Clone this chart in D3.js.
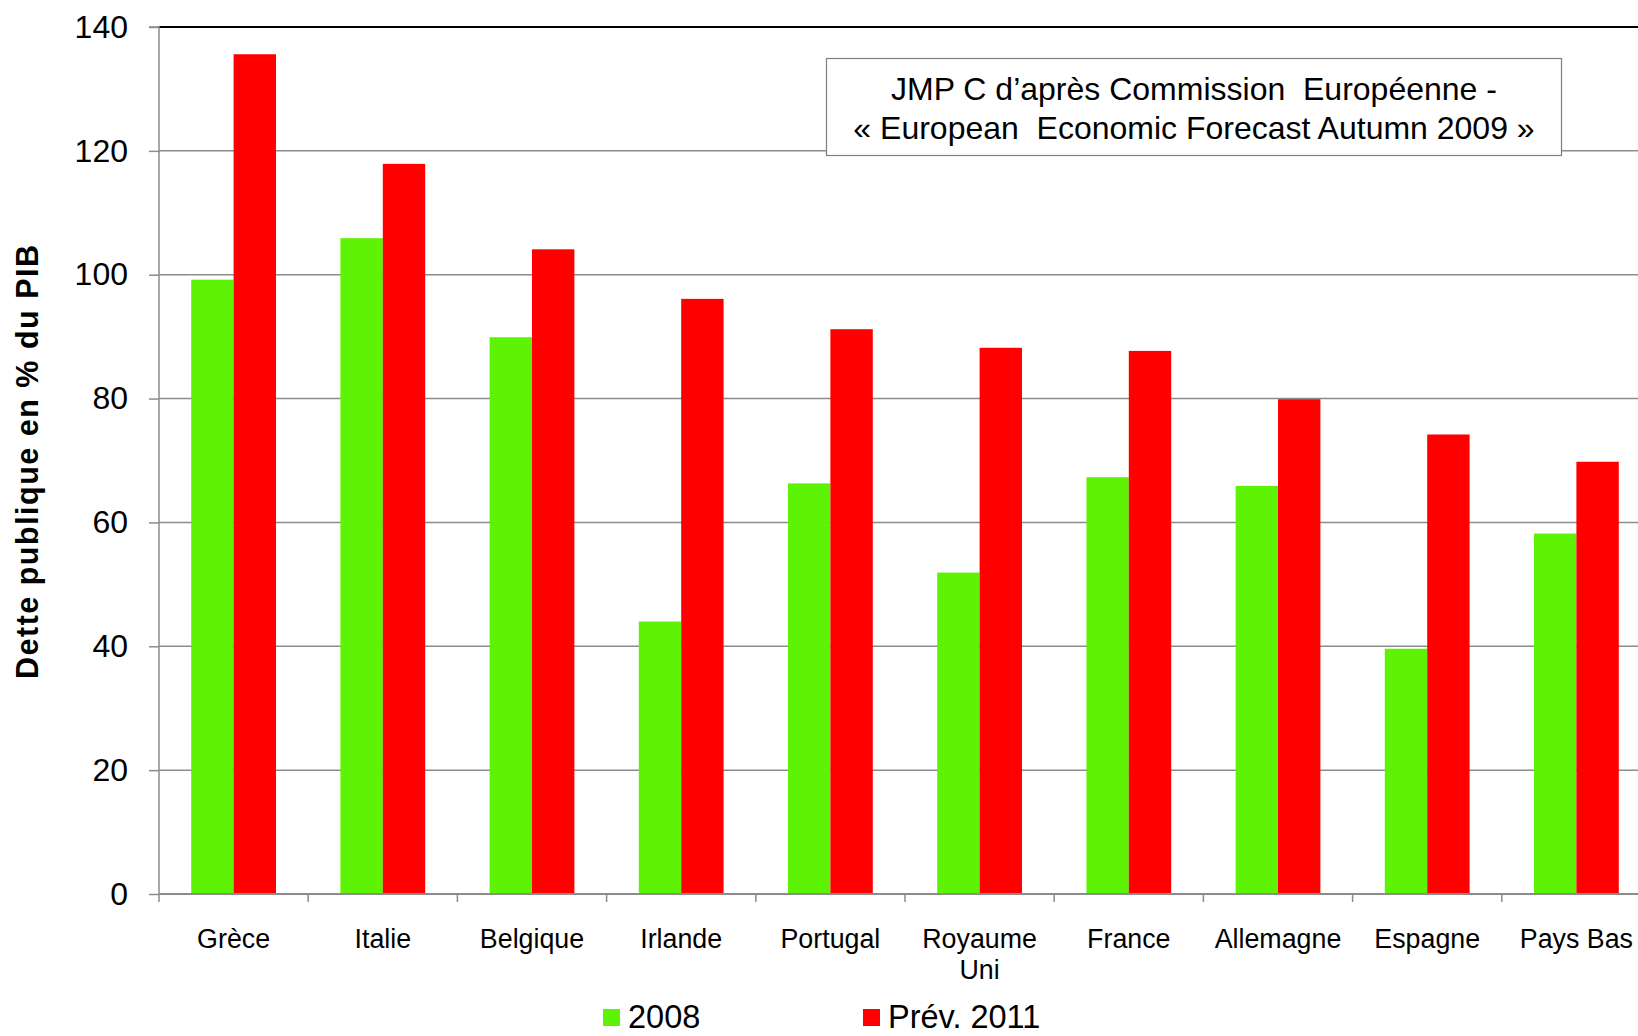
<!DOCTYPE html>
<html>
<head>
<meta charset="utf-8">
<script src="https://cdn.jsdelivr.net/npm/d3@7"></script>
<style>
  body { margin: 0; background: #fff; }
  svg { display: block; font-family: "Liberation Sans", Arial, sans-serif; }
</style>
</head>
<body>
<script>
// data (% du PIB)
const categories = ["Grèce", "Italie", "Belgique", "Irlande", "Portugal", "Royaume\nUni", "France", "Allemagne", "Espagne", "Pays Bas"];
const series = ["2008", "Prév. 2011"];
const v2008 = [99.2, 105.9, 89.9, 44.0, 66.3, 51.9, 67.3, 65.9, 39.6, 58.2];
const v2011 = [135.6, 117.9, 104.1, 96.1, 91.2, 88.2, 87.7, 79.9, 74.2, 69.8];
const yTicks = [0, 20, 40, 60, 80, 100, 120, 140];
const colors = ["#5ef204", "#ff0000"];

const width = 1638, height = 1036;
const margin = {top: 27, right: -13, bottom: 142, left: 159};

const data = categories.map((c, i) => ({cat: c, values: [v2008[i], v2011[i]]}));

const svg = d3.select("body").append("svg")
    .attr("width", width)
    .attr("height", height);

const x0 = d3.scaleBand()
    .domain(categories)
    .range([margin.left, width - margin.right])
    .paddingInner(0)
    .paddingOuter(0);

const x1 = d3.scaleBand()
    .domain(series)
    .range([0, x0.bandwidth()])
    .paddingInner(0)
    .paddingOuter(0.76);

const y = d3.scaleLinear()
    .domain([0, 140])
    .range([height - margin.bottom, margin.top]);

// grid
svg.append("g")
  .selectAll("line")
  .data(yTicks.filter(d => d > 0 && d < 140))
  .join("line")
    .attr("x1", margin.left)
    .attr("x2", width)
    .attr("y1", d => y(d))
    .attr("y2", d => y(d))
    .attr("stroke", "#8c8c8c")
    .attr("stroke-width", 1.5);

// top border
svg.append("line")
    .attr("x1", margin.left)
    .attr("x2", width)
    .attr("y1", y(140))
    .attr("y2", y(140))
    .attr("stroke", "#000")
    .attr("stroke-width", 2);

// bars
svg.append("g")
  .selectAll("g")
  .data(data)
  .join("g")
    .attr("transform", d => `translate(${x0(d.cat)},0)`)
  .selectAll("rect")
  .data(d => d.values.map((v, i) => ({key: series[i], value: v, i})))
  .join("rect")
    .attr("x", d => x1(d.key))
    .attr("width", x1.bandwidth())
    .attr("y", d => y(d.value))
    .attr("height", d => y(0) - y(d.value))
    .attr("fill", d => colors[d.i]);

// y axis
const yAxis = svg.append("g")
    .attr("transform", `translate(${margin.left},0)`)
    .call(d3.axisLeft(y).tickValues(yTicks).tickSize(10).tickPadding(21));
yAxis.selectAll("line, path").attr("stroke", "#8c8c8c").attr("stroke-width", 1.5);
yAxis.select(".domain").attr("d", `M-10,${y(140)}H0V${y(0)}`);
yAxis.selectAll("text")
    .attr("font-size", 32)
    .attr("fill", "#000")
    .attr("font-family", "Liberation Sans, Arial, sans-serif");

// x axis line and ticks at category boundaries
svg.append("line")
    .attr("x1", margin.left)
    .attr("x2", width)
    .attr("y1", y(0))
    .attr("y2", y(0))
    .attr("stroke", "#8c8c8c")
    .attr("stroke-width", 2);

svg.append("g")
  .selectAll("line")
  .data(categories)
  .join("line")
    .attr("x1", d => x0(d))
    .attr("x2", d => x0(d))
    .attr("y1", y(0))
    .attr("y2", y(0) + 8)
    .attr("stroke", "#8c8c8c")
    .attr("stroke-width", 1.5);

// category labels
svg.append("g")
  .selectAll("text")
  .data(categories)
  .join("text")
    .attr("text-anchor", "middle")
    .attr("font-size", 26.8)
    .attr("fill", "#000")
    .attr("transform", d => `translate(${x0(d) + x0.bandwidth() / 2},${y(0) + 54})`)
    .each(function(d) {
      d.split("\n").forEach((line, i) => {
        d3.select(this).append("tspan")
            .attr("x", 0)
            .attr("y", i * 31)
            .text(line);
      });
    });

// y title
svg.append("text")
    .attr("transform", "translate(38,462) rotate(-90)")
    .attr("text-anchor", "middle")
    .attr("font-size", 30.5)
    .attr("font-weight", "bold")
    .attr("textLength", 434)
    .attr("lengthAdjust", "spacing")
    .text("Dette publique en % du PIB");

// source box
const box = svg.append("g");
box.append("rect")
    .attr("x", 826.5)
    .attr("y", 58.5)
    .attr("width", 735)
    .attr("height", 97)
    .attr("fill", "#fff")
    .attr("stroke", "#7f7f7f")
    .attr("stroke-width", 1.2);
box.append("text")
    .attr("x", 1194)
    .attr("y", 100)
    .attr("text-anchor", "middle")
    .attr("font-size", 32)
    .style("white-space", "pre")
    .text("JMP C d\u2019après Commission  Européenne -");
box.append("text")
    .attr("x", 1194)
    .attr("y", 139)
    .attr("text-anchor", "middle")
    .attr("font-size", 32)
    .style("white-space", "pre")
    .text("« European  Economic Forecast Autumn 2009 »");

// legend
const legendX = [603, 863];
const legend = svg.append("g")
  .selectAll("g")
  .data(series)
  .join("g")
    .attr("transform", (d, i) => `translate(${legendX[i]},1009)`);
legend.append("rect")
    .attr("width", 17)
    .attr("height", 17)
    .attr("fill", (d, i) => colors[i]);
legend.append("text")
    .attr("x", 25)
    .attr("y", 19)
    .attr("font-size", 32.5)
    .text(d => d);
</script>
</body>
</html>
